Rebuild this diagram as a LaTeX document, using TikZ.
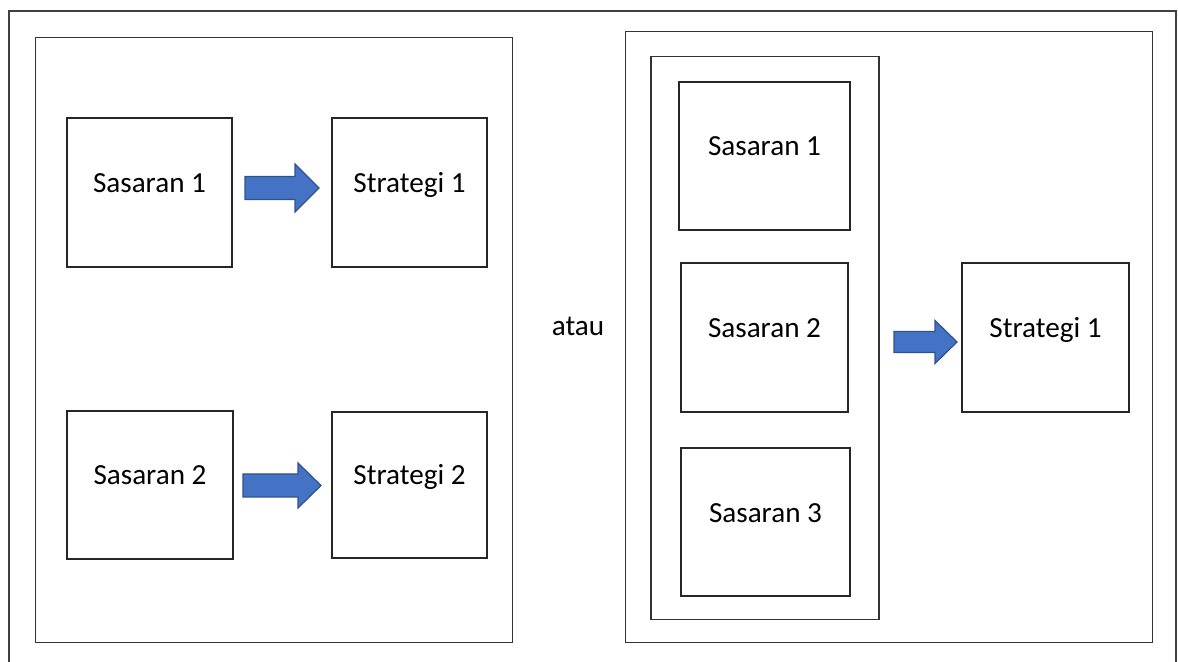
\documentclass[tikz,border=0pt]{standalone}
\usepackage{fontspec}
\setmainfont{Carlito}
\usepackage{tikz}
\usetikzlibrary{positioning}
\definecolor{arrfill}{RGB}{68,114,196}
\definecolor{arrline}{RGB}{47,82,143}
\tikzset{
  panel/.style={rectangle, draw=black!80, line width=0.6pt, inner sep=0pt},
  box/.style={rectangle, draw=black!85, line width=0.6pt, inner sep=0pt,
              text height=0pt, text depth=0pt, font=\fontsize{16.6pt}{20pt}\selectfont},
  blockarr/.style={fill=arrfill, draw=arrline, line width=0.7pt, line join=miter},
}

\begin{document}
\begin{tikzpicture}[x=0.02cm, y=-0.02cm]
  \useasboundingbox (0,0) rectangle (1178,662);
  % outer frame, cut off at the bottom
  \draw[black!75, line width=0.6pt] (9,662) -- (9,11) -- (1176,11) -- (1176,662);

  % left panel
  \node[panel, minimum width=9.56cm, minimum height=12.12cm] (leftpanel) at (274,340) {};
  \node[box, minimum width=3.3cm, minimum height=2.98cm] (sas1) at (149.5,192.5) {Sasaran 1};
  \node[box, minimum width=3.1cm, minimum height=2.98cm] (str1) at (409.5,192.5) {Strategi 1};
  \node[box, minimum width=3.32cm, minimum height=2.96cm] (sas2) at (150,485) {Sasaran 2};
  \node[box, minimum width=3.1cm, minimum height=2.92cm] (str2) at (409.5,485) {Strategi 2};

  \draw[blockarr] (245,176.5) -- (295,176.5) -- (295,164) -- (319,188) -- (295,212)
                  -- (295,199.5) -- (245,199.5) -- cycle;
  \draw[blockarr] (243,474) -- (298,474) -- (298,463) -- (321,485.5) -- (298,508)
                  -- (298,497) -- (243,497) -- cycle;

  \node[font=\fontsize{16.6pt}{20pt}\selectfont, anchor=base] (atau) at (578,336) {atau};

  % right panel
  \node[panel, minimum width=10.56cm, minimum height=12.24cm] (rightpanel) at (889,337) {};
  \node[panel, minimum width=4.56cm, minimum height=11.28cm] (column) at (765,338) {};
  \node[box, minimum width=3.42cm, minimum height=2.96cm] (rsas1) at (764.5,156) {Sasaran 1};
  \node[box, minimum width=3.34cm, minimum height=2.98cm] (rsas2) at (764.5,337.5) {Sasaran 2};
  \node[box, minimum width=3.38cm, minimum height=2.96cm] (rsas3) at (765.5,522) {Sasaran 3};
  \node[box, minimum width=3.34cm, minimum height=2.98cm] (rstr1) at (1045.5,337.5) {Strategi 1};

  \draw[blockarr] (894,331.5) -- (935,331.5) -- (935,320.5) -- (957,342) -- (935,363.5)
                  -- (935,352.5) -- (894,352.5) -- cycle;
\end{tikzpicture}
\end{document}
